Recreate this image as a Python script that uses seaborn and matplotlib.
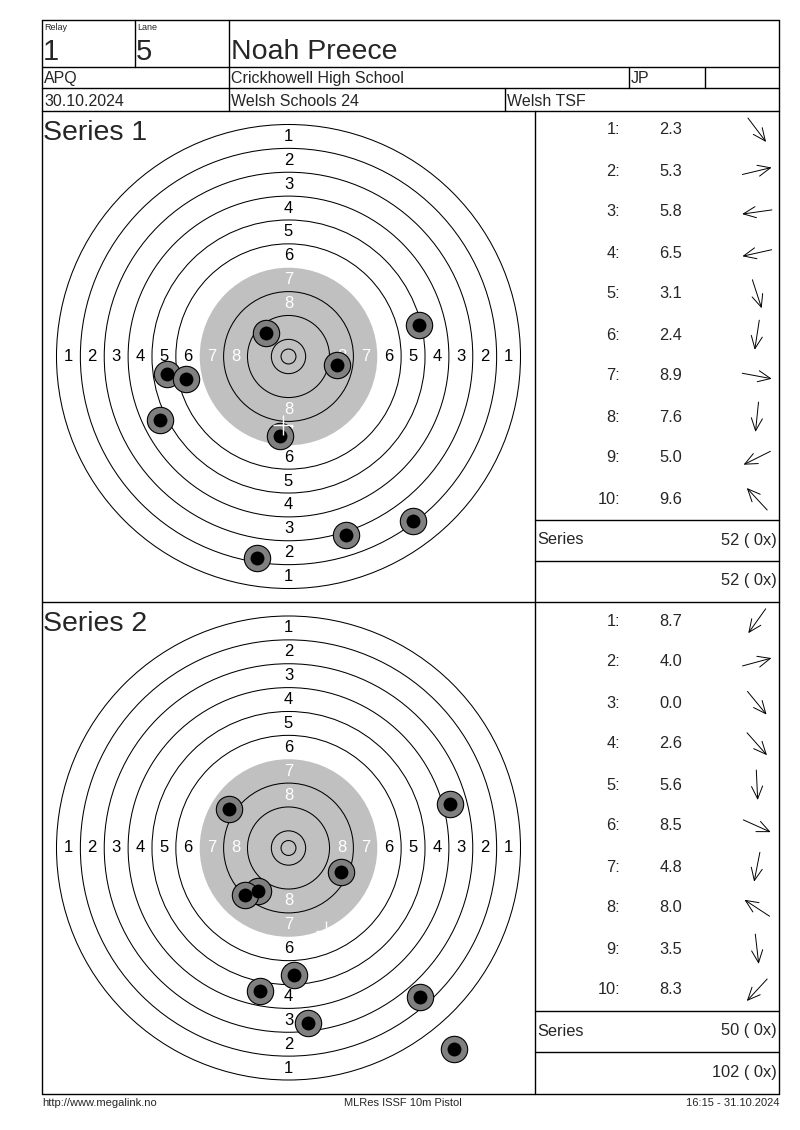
import numpy as np
import pandas as pd
import matplotlib.pyplot as plt
import seaborn as sns
from matplotlib.patches import Circle

sns.set_style('white')
plt.rcParams['font.family'] = ['Liberation Sans', 'DejaVu Sans']

# header info
RELAY = '1'
LANE = '5'
SHOOTER = 'Noah Preece'
CLASS = 'APQ'
CLUB = 'Crickhowell High School'
NATION = 'JP'
DATE = '30.10.2024'
EVENT = 'Welsh Schools 24'
ORGANISER = 'Welsh TSF'
FOOTER = ['http://www.megalink.no', 'MLRes ISSF 10m Pistol', '16:15 - 31.10.2024']

# shots, position in mm from centre (y up)
S1_SCORES = [2.3, 5.3, 5.8, 6.5, 3.1, 2.4, 8.9, 7.6, 5.0, 9.6]
S1_X = [41.6, 43.6, -40.6, -34.5, 19.4, -10.4, 16.1, -2.7, -42.9, -7.4]
S1_Y = [-55.0, 10.4, -5.7, -7.7, -59.7, -67.4, -3.0, -26.5, -21.4, 8.0]

S2_SCORES = [8.7, 4.0, 0.0, 2.6, 5.6, 8.5, 4.8, 8.0, 3.5, 8.3]
S2_X = [-10.2, 54.0, 55.3, 44.2, 2.0, 17.6, -9.4, -20.0, 6.7, -14.5]
S2_Y = [-14.3, 14.7, -67.4, -49.9, -42.6, -7.9, -47.9, 13.1, -58.6, -15.7]

# ISSF 10m pistol target (radii in mm)
RING_VALUES = [1, 2, 3, 4, 5, 6, 7, 8, 9, 10]
RING_RADII = [77.75, 69.75, 61.75, 53.75, 45.75, 37.75, 29.75, 21.75, 13.75, 5.75]
INNER_TEN = 2.5
BLACK_RADIUS = 29.75

PX_PER_MM = 2.984
W, H = 800, 1130

fig = plt.figure(figsize=(W / 100, H / 100), dpi=100)
bg = fig.add_axes([0, 0, 1, 1])
bg.set_xlim(0, W)
bg.set_ylim(H, 0)
bg.axis('off')

LEFT, RIGHT, MID = 42, 779, 535
LW = 1.0
FS = 11.8


def hline(y, x0=LEFT, x1=RIGHT):
    bg.plot([x0, x1], [y, y], color='black', lw=LW)


def vline(x, y0, y1):
    bg.plot([x, x], [y0, y1], color='black', lw=LW)


# frame and header grid
for y in [20, 67, 88, 111, 602, 1094]:
    hline(y)
vline(LEFT, 20, 1094)
vline(RIGHT, 20, 1094)
vline(135, 20, 67)
vline(229, 20, 111)
vline(629, 67, 88)
vline(705, 67, 88)
vline(505, 88, 111)
vline(MID, 111, 1094)

bg.text(44, 23, 'Relay', fontsize=6.5, va='top')
bg.text(137, 23, 'Lane', fontsize=6.5, va='top')
bg.text(43, 60, RELAY, fontsize=21, va='baseline')
bg.text(136, 60, LANE, fontsize=21, va='baseline')
bg.text(231, 59, SHOOTER, fontsize=20.5, va='baseline')
bg.text(44, 83, CLASS, fontsize=11.5, va='baseline')
bg.text(231, 83, CLUB, fontsize=11.5, va='baseline')
bg.text(631, 83, NATION, fontsize=11.5, va='baseline')
bg.text(44, 106, DATE, fontsize=11.5, va='baseline')
bg.text(231, 106, EVENT, fontsize=11.5, va='baseline')
bg.text(507, 106, ORGANISER, fontsize=11.5, va='baseline')

foot_font = ['Liberation Sans Narrow', 'Liberation Sans', 'DejaVu Sans']
bg.text(LEFT, 1103, FOOTER[0], fontsize=8, va='center', ha='left', family=foot_font)
bg.text(403, 1103, FOOTER[1], fontsize=8, va='center', ha='center', family=foot_font)
bg.text(RIGHT, 1103, FOOTER[2], fontsize=8, va='center', ha='right', family=foot_font)


def draw_target(top, bottom, title, xs, ys):
    cx = (LEFT + MID) / 2
    cy = (top + bottom) / 2
    ax = fig.add_axes([LEFT / W, 1 - bottom / H, (MID - LEFT) / W, (bottom - top) / H])
    ax.patch.set_visible(False)
    ax.add_patch(Circle((0, 0), BLACK_RADIUS, color='#c0c0c0', lw=0, zorder=1))
    for val, r in zip(RING_VALUES, RING_RADII):
        if val == 7:
            continue
        ax.add_patch(Circle((0, 0), r, fill=False, ec='black', lw=0.75, zorder=2))
    ax.add_patch(Circle((0, 0), INNER_TEN, fill=False, ec='black', lw=0.75, zorder=2))

    for i in range(8):
        rm = (RING_RADII[i] + RING_RADII[i + 1]) / 2
        col = 'white' if RING_VALUES[i] >= 7 else 'black'
        for dx, dy in [(0, 1), (0, -1), (-1, 0), (1, 0)]:
            ax.text(dx * rm, dy * rm, str(RING_VALUES[i]), fontsize=12, color=col,
                    ha='center', va='center', zorder=3)

    shots = pd.DataFrame({'x': xs, 'y': ys})
    sns.scatterplot(data=shots, x='x', y='y', ax=ax, s=360, color='#808080',
                    edgecolor='black', linewidth=0.8, zorder=5, legend=False)
    sns.scatterplot(data=shots, x='x', y='y', ax=ax, s=100, color='black',
                    edgecolor='black', linewidth=0, zorder=6, legend=False)
    ax.plot(shots['x'].mean(), shots['y'].mean(), marker='+', ms=14, mew=1,
            color='white', zorder=7)

    ax.set_xlim((LEFT - cx) / PX_PER_MM, (MID - cx) / PX_PER_MM)
    ax.set_ylim((cy - bottom) / PX_PER_MM, (cy - top) / PX_PER_MM)
    ax.axis('off')
    bg.text(LEFT + 1, top + 29, title, fontsize=20.5, va='baseline', ha='left')


def draw_list(top, scores, xs, ys, total_before):
    row0 = top + 19
    for i, (v, x, y) in enumerate(zip(scores, xs, ys)):
        ry = row0 + 41 * i
        bg.text(620, ry, f'{i + 1}:', fontsize=FS, ha='right', va='center')
        bg.text(671, ry, f'{v:.1f}', fontsize=FS, ha='center', va='center')
        ang = np.arctan2(y, x)
        dx, dy = np.cos(ang) * 15, -np.sin(ang) * 15
        bg.annotate('', xy=(757 + dx, ry + dy), xytext=(757 - dx, ry - dy),
                    arrowprops=dict(arrowstyle='->, head_length=0.9, head_width=0.4',
                                    lw=0.7, color='black', shrinkA=0, shrinkB=0))
    series = int(sum(int(v) for v in scores))
    xcount = sum(1 for v in scores if v >= 10.0)
    ls = top + 409
    hline(ls, MID, RIGHT)
    hline(ls + 41, MID, RIGHT)
    bg.text(537, ls + 20, 'Series', fontsize=FS, ha='left', va='center')
    bg.text(777, ls + 20, f'{series} ( {xcount}x)', fontsize=FS, ha='right', va='center')
    total = total_before + series
    bg.text(777, ls + 61, f'{total} ( {xcount}x)', fontsize=FS, ha='right', va='center')
    return total


draw_target(111, 602, 'Series 1', S1_X, S1_Y)
draw_target(602, 1094, 'Series 2', S2_X, S2_Y)
t1 = draw_list(111, S1_SCORES, S1_X, S1_Y, 0)
draw_list(602, S2_SCORES, S2_X, S2_Y, t1)

fig.savefig('out.png', dpi=100)
